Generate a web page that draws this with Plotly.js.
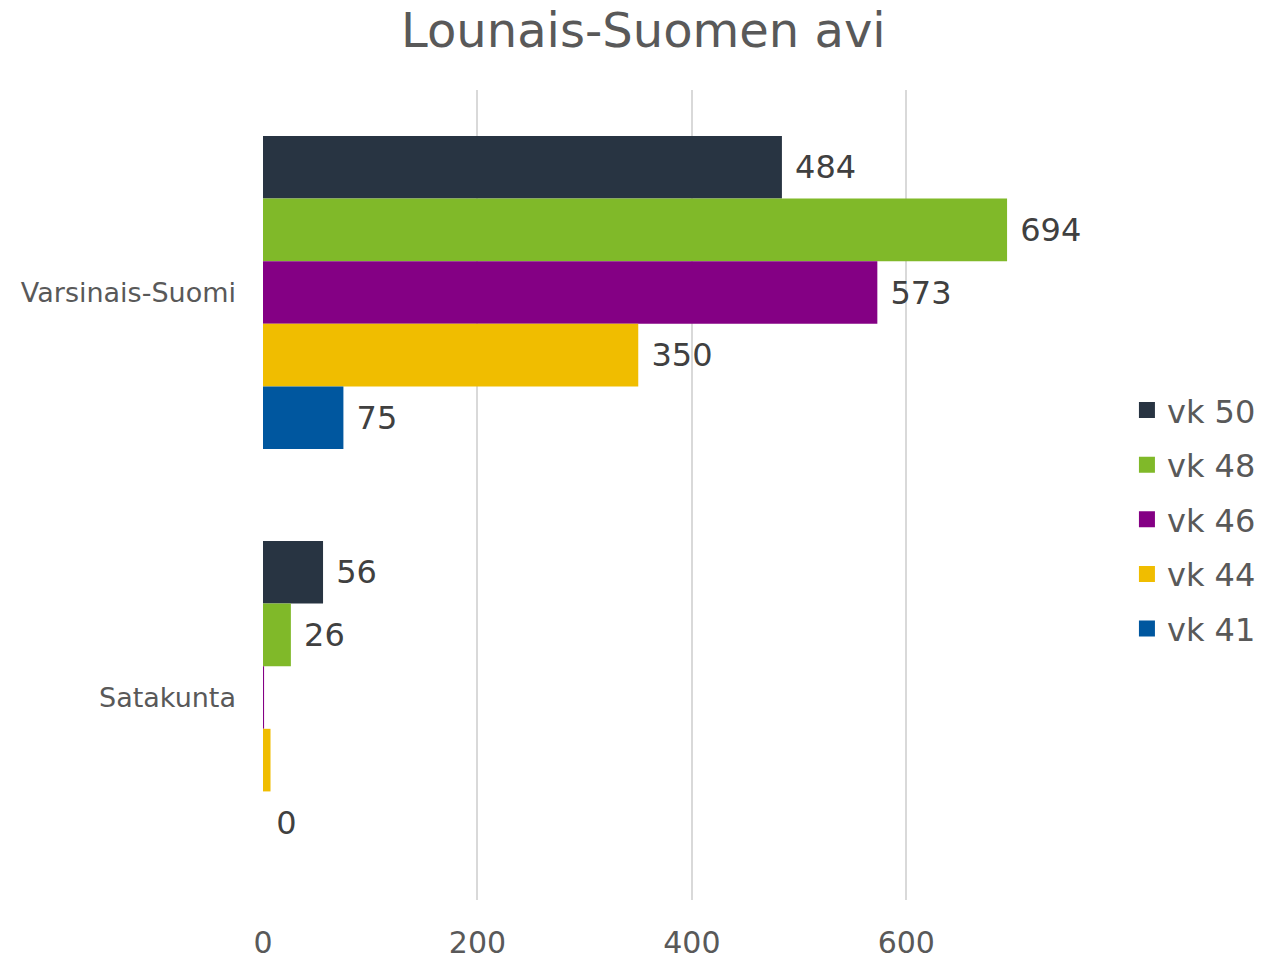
<!DOCTYPE html>
<html>
<head>
<meta charset="utf-8">
<script src="https://cdn.plot.ly/plotly-3.0.1.min.js"></script>
<style>html,body{margin:0;padding:0;background:#fff}#chart{width:1274px;height:959px}</style>
</head>
<body>
<div id="chart"></div>
<script>
const categories = ["Varsinais-Suomi", "Satakunta"];
const seriesNames = ["vk 50", "vk 48", "vk 46", "vk 44", "vk 41"];
const vk50 = [484, 56];
const vk48 = [694, 26];
const vk46 = [573, 1];
const vk44 = [350, 7];
const vk41 = [75, 0];
const showLabel = [[true, true], [true, true], [true, false], [true, false], [true, true]];
const tickValues = [0, 200, 400, 600];
const colors = ["#283442", "#80b929", "#840084", "#f0bd00", "#00579f"];

const seriesValues = [vk50, vk48, vk46, vk44, vk41];
const traces = seriesValues.map((vals, i) => ({
  type: "bar",
  orientation: "h",
  name: seriesNames[i],
  y: categories,
  x: vals,
  marker: {color: colors[i]},
  text: vals.map((v, j) => showLabel[i][j] ? "\u00a0" + String(v) : ""),
  textposition: "outside",
  textfont: {family: "DejaVu Sans", size: 32, color: "#404040"},
  constraintext: "none",
  cliponaxis: false,
  showlegend: false,
  hoverinfo: "x+name"
}));

const legendTraces = seriesNames.map((n, i) => ({
  type: "scatter",
  mode: "markers",
  name: n,
  x: [null], y: [null],
  marker: {symbol: "square", size: 18, color: colors[i]},
  legendgroup: "g" + i,
  showlegend: true
}));

const layout = {
  width: 1274, height: 959,
  paper_bgcolor: "#fff", plot_bgcolor: "#fff",
  margin: {l: 263, r: 164, t: 90, b: 59},
  title: {text: "Lounais-Suomen avi", x: 0.505, xanchor: "center", y: 0.968, yanchor: "middle",
          font: {family: "DejaVu Sans", size: 48, color: "#595959"}},
  barmode: "group",
  bargap: 0.227,
  bargroupgap: 0,
  xaxis: {range: [0, 790], tickvals: tickValues, showgrid: true, gridcolor: "#d9d9d9", gridwidth: 2,
          zeroline: false, showline: false, ticks: "", ticklabelstandoff: 22,
          tickfont: {family: "DejaVu Sans", size: 30, color: "#595959"}},
  yaxis: {autorange: "reversed", showgrid: false, zeroline: false, showline: false, ticks: "",
          ticklabelstandoff: 26, tickfont: {family: "DejaVu Sans", size: 27, color: "#595959"}},
  legend: {x: 1.02, xanchor: "left", y: 0.47, yanchor: "middle", itemwidth: 30, tracegroupgap: 10,
           traceorder: "grouped", font: {family: "DejaVu Sans", size: 32, color: "#595959"}},
  showlegend: true
};

Plotly.newPlot("chart", traces.concat(legendTraces), layout, {displayModeBar: false, staticPlot: true});
</script>
</body>
</html>
